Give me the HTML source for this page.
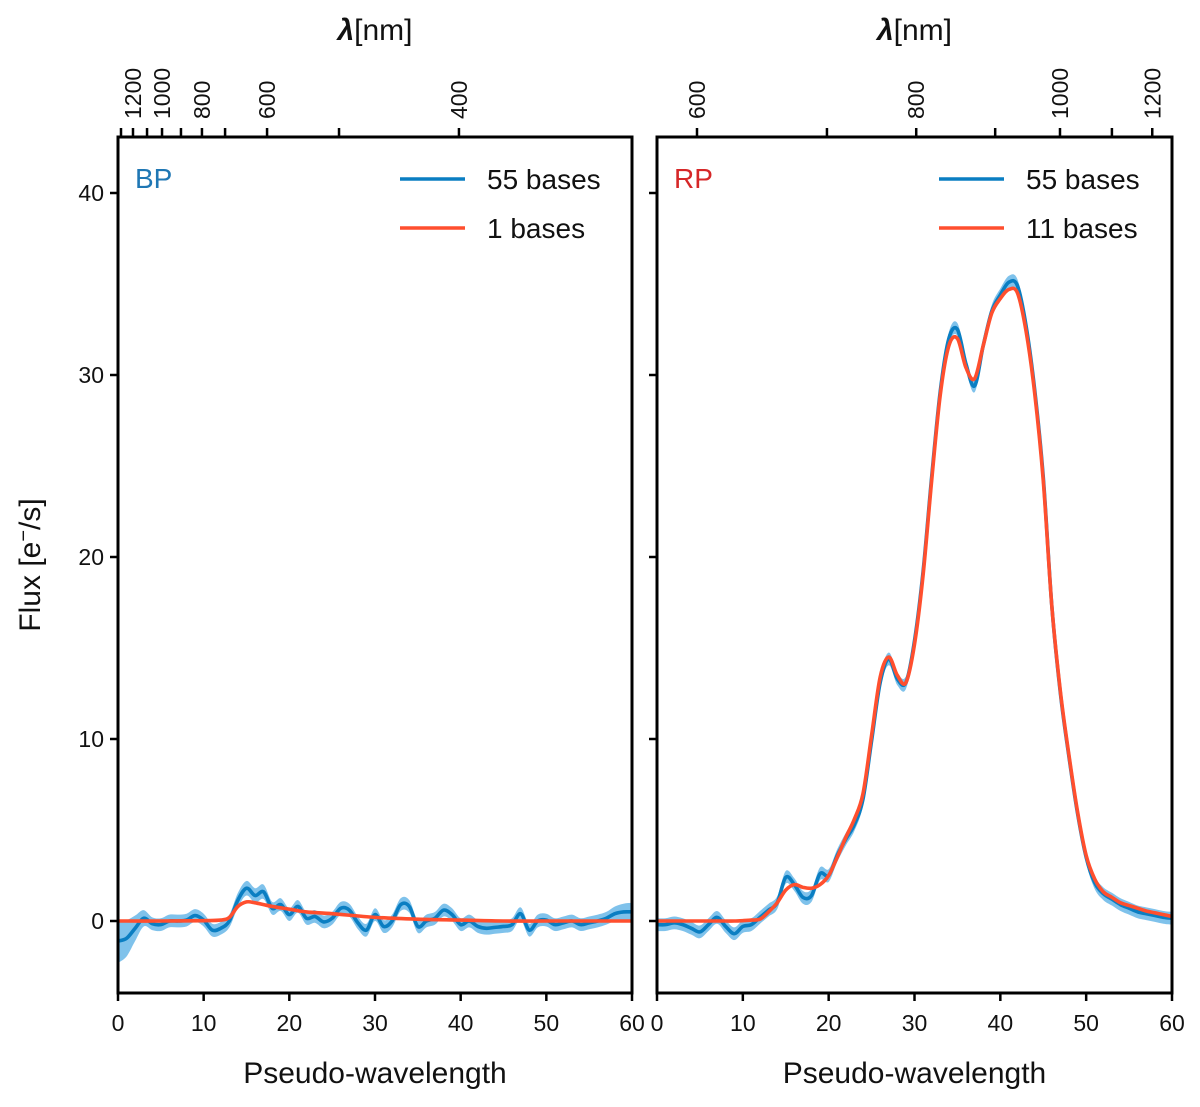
<!DOCTYPE html>
<html><head><meta charset="utf-8"><style>
html,body{margin:0;padding:0;background:#fff;}
svg{display:block;font-family:"Liberation Sans","DejaVu Sans",sans-serif;}
</style></head><body>
<svg id="chart" width="1200" height="1107" viewBox="0 0 1200 1107" xmlns="http://www.w3.org/2000/svg"></svg>
<script>
const pseudo = Array.from({length:61},(_,i)=>i);
const bpBlue = [-1.1,-0.95,-0.4,0.15,-0.15,-0.2,0,0,0.05,0.3,0.05,-0.5,-0.4,0,1.15,1.8,1.4,1.6,0.7,0.9,0.35,0.8,0.15,0.25,-0.05,0.15,0.7,0.6,-0.1,-0.5,0.35,-0.3,0,0.9,0.8,-0.3,0,0.15,0.6,0.35,-0.2,0,-0.3,-0.4,-0.35,-0.3,-0.2,0.4,-0.5,0,0.05,-0.2,-0.1,0,-0.2,-0.1,0,0.15,0.4,0.5,0.5];
const bpErr = [1.2,1.0,0.7,0.45,0.35,0.35,0.35,0.35,0.35,0.35,0.35,0.35,0.35,0.35,0.4,0.4,0.4,0.4,0.35,0.35,0.35,0.35,0.35,0.35,0.35,0.35,0.35,0.35,0.35,0.35,0.35,0.35,0.35,0.35,0.35,0.35,0.35,0.35,0.35,0.35,0.35,0.35,0.35,0.35,0.35,0.35,0.35,0.35,0.35,0.35,0.35,0.35,0.35,0.35,0.35,0.35,0.35,0.35,0.4,0.45,0.5];
const bpRedX = [0,5,10,12,13,14,15,16,17,18,20,22,25,30,35,40,45,50,55,60];
const bpRed = [0,0,0.02,0.05,0.2,0.8,1.05,1.0,0.9,0.8,0.65,0.5,0.4,0.2,0.1,0.05,0,0,0,0];
const rpBlue = [-0.2,-0.2,-0.1,-0.2,-0.4,-0.6,-0.2,0.2,-0.3,-0.7,-0.3,-0.2,0.2,0.6,1.0,2.4,2.0,1.3,1.4,2.6,2.5,3.6,4.5,5.3,6.7,9.9,13.1,14.4,13.3,13.1,15.4,19.2,24.4,29.1,32.0,32.5,30.6,29.4,31.6,33.5,34.4,35.1,34.9,32.7,29.2,24.4,17.3,12.5,9.0,5.9,3.5,2.1,1.5,1.2,0.9,0.7,0.5,0.4,0.3,0.2,0.15];
const rpErr = 0.35;
const rpRed = [0,0,0,0,0,0,0,0,0,0,0.02,0.05,0.1,0.5,1.0,1.7,2.0,1.85,1.8,2.0,2.5,3.5,4.6,5.6,7.0,10.2,13.4,14.5,13.5,13.1,15.2,19.0,24.2,28.9,31.6,32.0,30.4,29.8,31.6,33.4,34.2,34.7,34.5,32.4,29.0,24.2,17.3,12.6,9.1,6.0,3.6,2.3,1.6,1.3,1.0,0.85,0.7,0.55,0.45,0.35,0.25];
const xTicks = [0,10,20,30,40,50,60];
const yTicks = [0,10,20,30,40];
const bpWl = [1300,1200,1100,1000,900,800,700,600,500,400];
const bpWlPos = [0.35,1.75,3.39,5.14,7.35,9.8,12.5,17.4,25.8,39.8];
const bpWlLabels = [1200,1000,800,600,400];
const rpWl = [600,700,800,900,1000,1100,1200];
const rpWlPos = [4.66,19.8,30.2,39.4,46.95,53.0,57.7];
const rpWlLabels = [600,800,1000,1200];

const NS="http://www.w3.org/2000/svg";
const svg=document.getElementById('chart');
function mk(tag,attrs,parent){const e=document.createElementNS(NS,tag);for(const k in attrs)e.setAttribute(k,attrs[k]);(parent||svg).appendChild(e);return e;}
const Y0=921, YS=18.2, PT=137, PB=993;
const yPix=v=>Y0-v*YS;
function smooth(pts){let d=`M${pts[0][0]},${pts[0][1]}`;for(let i=0;i<pts.length-1;i++){const p0=pts[Math.max(0,i-1)],p1=pts[i],p2=pts[i+1],p3=pts[Math.min(pts.length-1,i+2)];const c1=[p1[0]+(p2[0]-p0[0])/6,p1[1]+(p2[1]-p0[1])/6];const c2=[p2[0]-(p3[0]-p1[0])/6,p2[1]-(p3[1]-p1[1])/6];d+=` C${c1[0].toFixed(2)},${c1[1].toFixed(2)} ${c2[0].toFixed(2)},${c2[1].toFixed(2)} ${p2[0].toFixed(2)},${p2[1].toFixed(2)}`;}return d;}
function smoothNoM(pts){return smooth(pts).replace(/^M[^C]*/,'');}

function panel(cfg){
  const L=cfg.L,R=cfg.R,xP=v=>L+(R-L)*v/60;
  const g=mk('g',{});
  
  
  const up=pseudo.map((p,i)=>[xP(p),yPix(cfg.blue[i]+(Array.isArray(cfg.err)?cfg.err[i]:cfg.err))]);
  const lo=pseudo.map((p,i)=>[xP(p),yPix(cfg.blue[i]-(Array.isArray(cfg.err)?cfg.err[i]:cfg.err))]).reverse();
  const band=mk('path',{d:smooth(up)+` L${lo[0][0]},${lo[0][1]}`+smoothNoM(lo)+'Z',fill:'#5fb3e6','fill-opacity':'0.8',stroke:'none'},g);
  
  
  const bl=mk('path',{d:smooth(pseudo.map((p,i)=>[xP(p),yPix(cfg.blue[i])])),fill:'none',stroke:'#0a7ec2','stroke-width':3.6},g);
  
  
  const rl=mk('path',{d:smooth(cfg.redX.map((p,i)=>[xP(p),yPix(cfg.red[i])])),fill:'none',stroke:'#ff4f2e','stroke-width':3.6},g);
  
  
  const fr=mk('rect',{x:L,y:PT,width:R-L,height:PB-PT,fill:'none',stroke:'#000','stroke-width':3},g);
  
  
  xTicks.forEach(t=>{
    const x=xP(t);
    const tk=mk('line',{x1:x,x2:x,y1:PB,y2:PB+8,stroke:'#000','stroke-width':2.5},g);
    
    
    const tl=mk('text',{x:x,y:PB+38,'text-anchor':'middle','font-size':23,fill:'#111'},g);
    tl.textContent=t;
    
    
  });
  yTicks.forEach(t=>{
    const y=yPix(t);
    const tk=mk('line',{x1:L-8,x2:L,y1:y,y2:y,stroke:'#000','stroke-width':2.5},g);
    
    
    if(cfg.yLabels){
      const tl=mk('text',{x:L-14,y:y+8,'text-anchor':'end','font-size':23,fill:'#111'},g);
      tl.textContent=t;
      
      
    }
  });
  cfg.wl.forEach((w,i)=>{
    const x=xP(cfg.wlPos[i]);
    const tk=mk('line',{x1:x,x2:x,y1:PT,y2:PT-9,stroke:'#000','stroke-width':2.5},g);
    
    
    if(cfg.wlLabels.includes(w)){
      const tl=mk('text',{x:0,y:0,'text-anchor':'start','font-size':23,fill:'#111',transform:`translate(${x+8},${PT-18}) rotate(-90)`},g);
      tl.textContent=w;
      
      
    }
  });
  const cx=(L+R)/2;
  const xl=mk('text',{x:cx,y:1083,'text-anchor':'middle','font-size':30,fill:'#111'},g);
  xl.textContent='Pseudo-wavelength';
  
  
  const tl=mk('text',{x:cx,y:40,'text-anchor':'middle','font-size':30,fill:'#111'},g);
  tl.innerHTML='<tspan font-weight="bold" font-style="italic">λ</tspan>[nm]';
  
  
  const pl=mk('text',{x:L+17,y:188,'font-size':28,fill:cfg.labelColor},g);
  pl.textContent=cfg.label;
  
  
  [['55 bases','#0a7ec2',179],[cfg.redN+' bases','#ff4f2e',228]].forEach(([txt,c,y])=>{
    const lg=mk('g',{},g);
    
    
    mk('line',{x1:L+282,x2:L+347,y1:y,y2:y,stroke:c,'stroke-width':3.5},lg);
    const t=mk('text',{x:L+369,y:y+10,'font-size':28,fill:'#111'},lg);
    t.textContent=txt;
  });
}
panel({name:'bp',L:118,R:632,blue:bpBlue,err:bpErr,redX:bpRedX,red:bpRed,redN:1,yLabels:true,wl:bpWl,wlPos:bpWlPos,wlLabels:bpWlLabels,label:'BP',labelColor:'#1f77b4'});
panel({name:'rp',L:657,R:1172,blue:rpBlue,err:rpErr,redX:pseudo,red:rpRed,redN:11,yLabels:false,wl:rpWl,wlPos:rpWlPos,wlLabels:rpWlLabels,label:'RP',labelColor:'#d62728'});
const yl=mk('text',{x:0,y:0,'text-anchor':'middle','font-size':30,fill:'#111',transform:'translate(40,565) rotate(-90)'});
yl.innerHTML='Flux [e<tspan dy="-10" font-size="20">−</tspan><tspan dy="10">/s]</tspan>';


</script>
</body></html>
